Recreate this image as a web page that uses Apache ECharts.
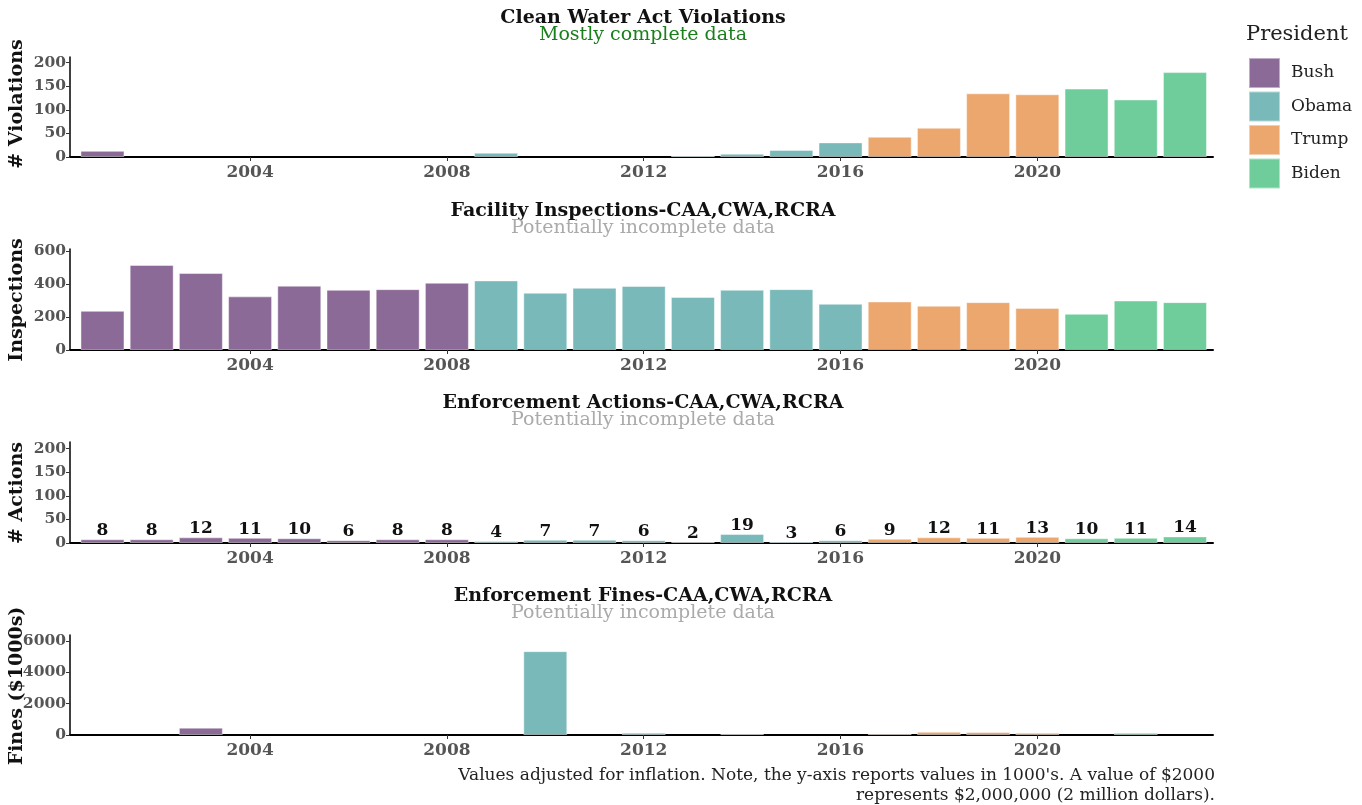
<!DOCTYPE html>
<html><head><meta charset="utf-8">
<script src="https://cdn.jsdelivr.net/npm/echarts@6/dist/echarts.min.js"></script>
<style>html,body{margin:0;padding:0;background:#fff}#c{width:1362px;height:805px}</style>
</head><body><div id="c"></div>
<script>
const years = [2001,2002,2003,2004,2005,2006,2007,2008,2009,2010,2011,2012,2013,2014,2015,2016,2017,2018,2019,2020,2021,2022,2023];
const presidentByYear = ['Bush','Bush','Bush','Bush','Bush','Bush','Bush','Bush','Obama','Obama','Obama','Obama','Obama','Obama','Obama','Obama','Trump','Trump','Trump','Trump','Biden','Biden','Biden'];
const presidents = ['Bush','Obama','Trump','Biden'];
const xTickYears = [2004,2008,2012,2016,2020];

const violations = [13,0,0,0,0,0,0,0,9,0,0,0,3,7,15,31,43,62,135,133,145,122,180];
const inspections = [238,517,468,326,391,366,370,409,423,348,378,389,322,366,370,281,295,269,291,256,220,301,291];
const actions = [8,8,12,11,10,6,8,8,4,7,7,6,2,19,3,6,9,12,11,13,10,11,14];
const fines = [0,0,470,0,0,0,0,0,0,5350,0,150,0,60,0,0,85,210,190,146,0,140,0];

const violationsTicks = [0,50,100,150,200];
const inspectionsTicks = [0,200,400,600];
const actionsTicks = [0,50,100,150,200];
const finesTicks = [0,2000,4000,6000];

const titles = ['Clean Water Act Violations','Facility Inspections-CAA,CWA,RCRA','Enforcement Actions-CAA,CWA,RCRA','Enforcement Fines-CAA,CWA,RCRA'];
const subtitles = ['Mostly complete data','Potentially incomplete data','Potentially incomplete data','Potentially incomplete data'];
const yNames = ['# Violations','Inspections','# Actions','Fines ($1000s)'];
const footnote1 = "Values adjusted for inflation. Note, the y-axis reports values in 1000's. A value of $2000";
const footnote2 = "represents $2,000,000 (2 million dollars).";

const colors = {Bush:'#8C6A97', Obama:'#79B9B9', Trump:'#ECA76F', Biden:'#6FCD9B'};
const FONT = '"DejaVu Serif", serif';

const panels = [
  {values: violations, ticks: violationsTicks, max: 212, top: 57, height: 100, titleY: 18, nameY: 104},
  {values: inspections, ticks: inspectionsTicks, max: 614, top: 249, height: 101, titleY: 211, nameY: 300},
  {values: actions, ticks: actionsTicks, max: 214, top: 442, height: 101, titleY: 403, nameY: 493},
  {values: fines, ticks: finesTicks, max: 6380, top: 635, height: 100, titleY: 596, nameY: 686}
];

const plain = v => String(Math.round(v));
const grid = [], xAxis = [], yAxis = [], series = [], graphic = [];
panels.forEach((p, pi) => {
  grid.push({left: 70, width: 1143, top: p.top, height: p.height});
  xAxis.push({
    type: 'value', gridIndex: pi, min: 2000.34, max: 2023.57,
    splitLine: {show: false},
    axisLine: {show: true, lineStyle: {color: '#000', width: 2}},
    axisTick: {show: true, length: 4, customValues: xTickYears, lineStyle: {color: '#333', width: 1}},
    axisLabel: {customValues: xTickYears, formatter: plain, fontFamily: FONT, fontWeight: 'bold', fontSize: 17, color: '#555', margin: 7}
  });
  yAxis.push({
    type: 'value', gridIndex: pi, min: 0, max: p.max,
    splitLine: {show: false},
    axisLine: {show: true, lineStyle: {color: '#000', width: 1.5}},
    axisTick: {show: true, length: 4, customValues: p.ticks, lineStyle: {color: '#333', width: 1}},
    axisLabel: {customValues: p.ticks, formatter: plain, fontFamily: FONT, fontWeight: 'bold', fontSize: 15.5, color: '#555', margin: 4}
  });
  presidents.forEach(name => {
    const data = [];
    years.forEach((y, i) => {
      if (presidentByYear[i] === name && (pi === 2 || p.values[i] > 0)) data.push([y, p.values[i]]);
    });
    const s = {
      type: 'bar', name, xAxisIndex: pi, yAxisIndex: pi,
      barWidth: 44, barGap: '-100%',
      itemStyle: {color: colors[name], borderColor: 'rgba(255,255,255,0.45)', borderWidth: 1},
      data, animation: false, silent: true
    };
    if (pi === 2) {
      s.label = {show: true, position: 'top', distance: 0, formatter: d => d.value[1],
        fontFamily: FONT, fontWeight: 'bold', fontSize: 17, color: '#111'};
    }
    series.push(s);
  });
  graphic.push({type: 'text', x: 643, y: p.titleY, style: {text: titles[pi], font: 'bold 19px ' + FONT, fill: '#111', textAlign: 'center', textVerticalAlign: 'middle'}});
  graphic.push({type: 'text', x: 643, y: p.titleY + 17, style: {text: subtitles[pi], font: '19px ' + FONT, fill: pi === 0 ? '#1a7f1a' : '#aaaaaa', textAlign: 'center', textVerticalAlign: 'middle'}});
  graphic.push({type: 'text', x: 17, y: p.nameY, rotation: Math.PI / 2, style: {text: yNames[pi], font: 'bold 19px ' + FONT, fill: '#111', textAlign: 'center', textVerticalAlign: 'middle'}});
});
graphic.push({type: 'text', x: 1246, y: 35, style: {text: 'President', font: '21px ' + FONT, fill: '#222', textAlign: 'left', textVerticalAlign: 'middle'}});
graphic.push({type: 'text', x: 1215, y: 776, style: {text: footnote1, font: '17px ' + FONT, fill: '#222', textAlign: 'right', textVerticalAlign: 'middle'}});
graphic.push({type: 'text', x: 1215, y: 796, style: {text: footnote2, font: '17px ' + FONT, fill: '#222', textAlign: 'right', textVerticalAlign: 'middle'}});

const chart = echarts.init(document.getElementById('c'), null, {renderer: 'canvas'});
chart.setOption({
  animation: false,
  backgroundColor: '#fff',
  grid, xAxis, yAxis, series, graphic,
  legend: {
    data: presidents, orient: 'vertical', left: 1248, top: 57, padding: 0,
    itemWidth: 31, itemHeight: 30, itemGap: 1.5, icon: 'rect',
    selectedMode: false,
    textStyle: {fontFamily: FONT, fontSize: 17, color: '#222', padding: [0, 0, 0, 6]}
  }
});
</script></body></html>
